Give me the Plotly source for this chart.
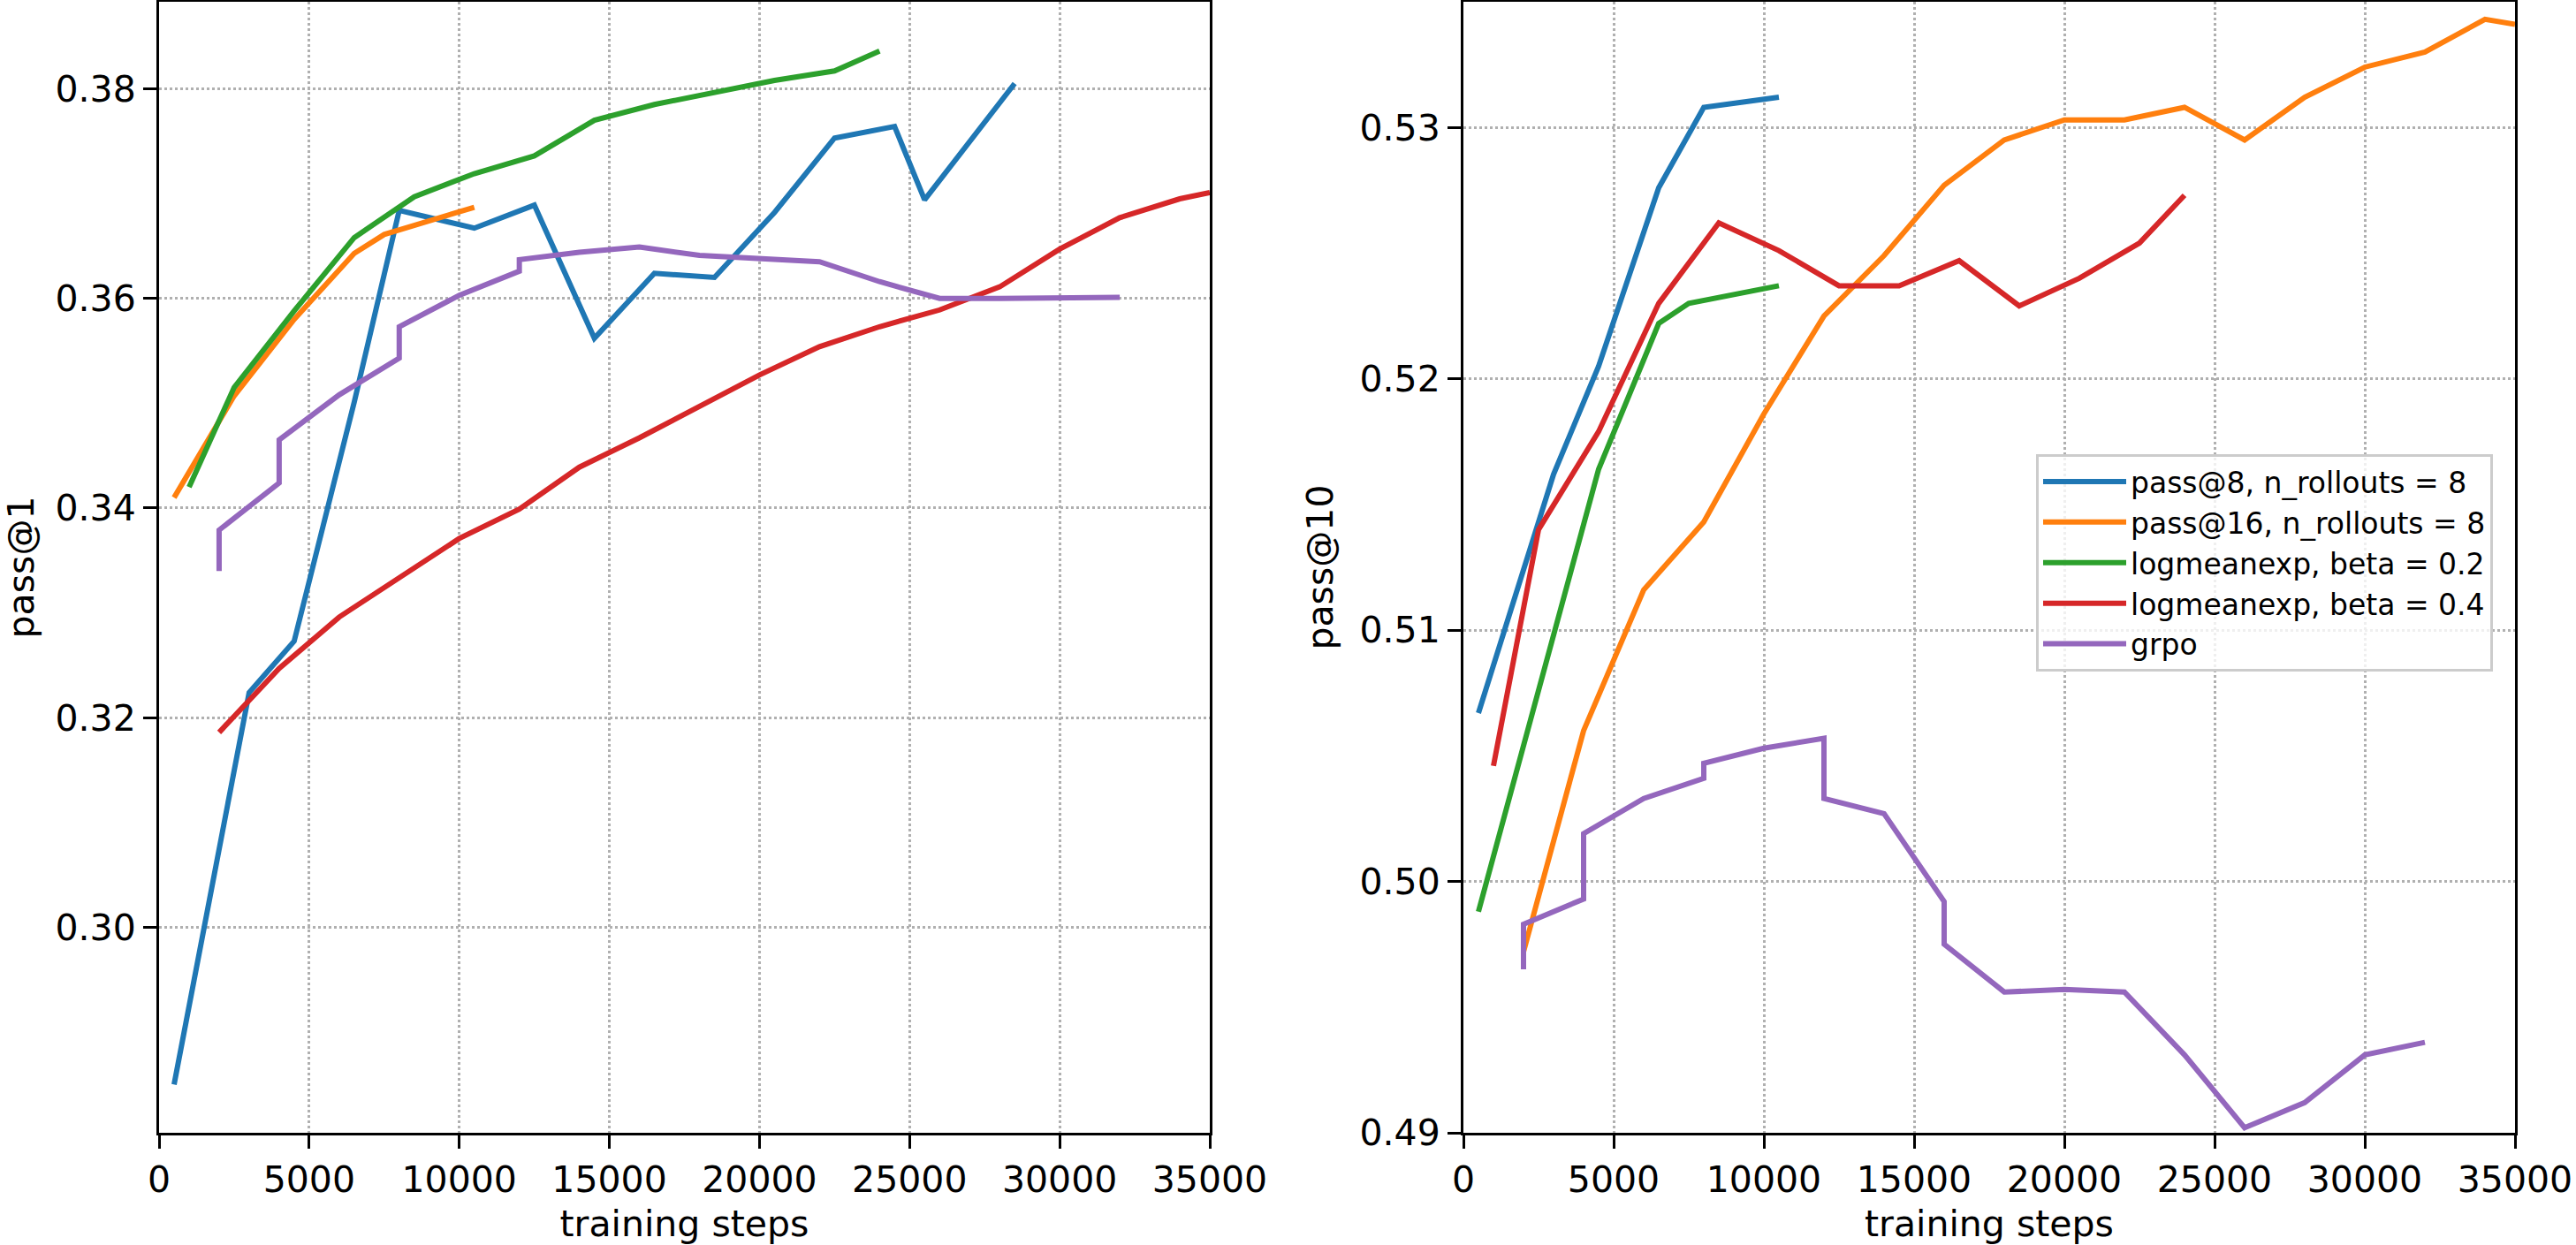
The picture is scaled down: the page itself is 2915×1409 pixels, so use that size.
import plotly.graph_objects as go

# ---------------- data ----------------
names = ["pass@8, n_rollouts = 8", "pass@16, n_rollouts = 8",
         "logmeanexp, beta = 0.2", "logmeanexp, beta = 0.4", "grpo"]
colors = ["#1f77b4", "#ff7f0e", "#2ca02c", "#d62728", "#9467bd"]

# left panel: pass@1
l_pass8_x = [500, 3000, 4500, 6500, 8000, 10500, 12500, 14500, 16500, 18500, 20500, 22500, 24500, 25500, 28500]
l_pass8_y = [0.2850, 0.3224, 0.3273, 0.3501, 0.3684, 0.3667, 0.3689, 0.3562, 0.3624, 0.3620, 0.3682, 0.3753, 0.3764, 0.3694, 0.3805]
l_pass16_x = [500, 2500, 4500, 6500, 7500, 10500]
l_pass16_y = [0.3410, 0.3507, 0.3580, 0.3643, 0.3661, 0.3687]
l_lme02_x = [1000, 2500, 4500, 6500, 8500, 10500, 12500, 14500, 16500, 18500, 20500, 22500, 24000]
l_lme02_y = [0.3420, 0.3515, 0.3588, 0.3658, 0.3697, 0.3719, 0.3736, 0.3770, 0.3785, 0.3796, 0.3808, 0.3817, 0.3836]
l_lme04_x = [2000, 4000, 6000, 8000, 10000, 12000, 14000, 16000, 18000, 20000, 22000, 24000, 26000, 28000, 30000, 32000, 34000, 35000]
l_lme04_y = [0.3186, 0.3247, 0.3296, 0.3334, 0.3371, 0.3399, 0.3439, 0.3467, 0.3497, 0.3527, 0.3554, 0.3573, 0.3589, 0.3611, 0.3647, 0.3677, 0.3695, 0.3701]
l_grpo_x = [2000, 2000, 4000, 4000, 6000, 8000, 8000, 10000, 12000, 12000, 14000, 16000, 18000, 20000, 22000, 24000, 26000, 28000, 30000, 32000]
l_grpo_y = [0.3340, 0.3379, 0.3424, 0.3465, 0.3508, 0.3543, 0.3573, 0.3603, 0.3626, 0.3637, 0.3644, 0.3649, 0.3641, 0.3638, 0.3635, 0.3616, 0.3600, 0.3600, 0.3600, 0.3601]

# right panel: pass@10
r_pass8_x = [500, 3000, 4500, 6500, 8000, 10500]
r_pass8_y = [0.5067, 0.5162, 0.5205, 0.5276, 0.5308, 0.5312]
r_pass16_x = [2000, 4000, 6000, 8000, 10000, 12000, 14000, 16000, 18000, 20000, 22000, 24000, 26000, 28000, 30000, 32000, 34000, 35000]
r_pass16_y = [0.4972, 0.5060, 0.5116, 0.5143, 0.5186, 0.5225, 0.5249, 0.5277, 0.5295, 0.5303, 0.5303, 0.5308, 0.5295, 0.5312, 0.5324, 0.5330, 0.5343, 0.5341]
r_lme02_x = [500, 4500, 6500, 7500, 10500]
r_lme02_y = [0.4988, 0.5164, 0.5222, 0.5230, 0.5237]
r_lme04_x = [1000, 2500, 4500, 6500, 8500, 10500, 12500, 14500, 16500, 18500, 20500, 22500, 24000]
r_lme04_y = [0.5046, 0.5140, 0.5179, 0.5230, 0.5262, 0.5251, 0.5237, 0.5237, 0.5247, 0.5229, 0.5240, 0.5254, 0.5273]
r_grpo_x = [2000, 2000, 4000, 4000, 6000, 8000, 8000, 10000, 12000, 12000, 14000, 16000, 16000, 18000, 20000, 22000, 24000, 26000, 28000, 30000, 32000]
r_grpo_y = [0.4965, 0.4983, 0.4993, 0.5019, 0.5033, 0.5041, 0.5047, 0.5053, 0.5057, 0.5033, 0.5027, 0.4992, 0.4975, 0.4956, 0.4957, 0.4956, 0.4931, 0.4902, 0.4912, 0.4931, 0.4936]

x_ticks = [0, 5000, 10000, 15000, 20000, 25000, 30000, 35000]
left_y_ticks = [0.30, 0.32, 0.34, 0.36, 0.38]
right_y_ticks = [0.49, 0.50, 0.51, 0.52, 0.53]

left_series = [(l_pass8_x, l_pass8_y), (l_pass16_x, l_pass16_y), (l_lme02_x, l_lme02_y),
               (l_lme04_x, l_lme04_y), (l_grpo_x, l_grpo_y)]
right_series = [(r_pass8_x, r_pass8_y), (r_pass16_x, r_pass16_y), (r_lme02_x, r_lme02_y),
                (r_lme04_x, r_lme04_y), (r_grpo_x, r_grpo_y)]

# ---------------- figure ----------------
W, H = 2915, 1409
FONT = "DejaVu Sans"
LW = 6

fig = go.Figure()
for (xs, ys), name, c in zip(left_series, names, colors):
    fig.add_trace(go.Scatter(x=xs, y=ys, mode="lines", name=name, showlegend=False,
                             line=dict(color=c, width=LW), xaxis="x", yaxis="y"))
for (xs, ys), name, c in zip(right_series, names, colors):
    fig.add_trace(go.Scatter(x=xs, y=ys, mode="lines", name=name, showlegend=True,
                             line=dict(color=c, width=LW), xaxis="x2", yaxis="y2"))

ydom = [1 - 1282 / H, 1 - 2 / H]
common_ax = dict(showline=True, linecolor="black", linewidth=3, mirror=True,
                 ticks="outside", ticklen=15, tickwidth=3, tickcolor="black",
                 showgrid=True, gridcolor="#b0b0b0", gridwidth=2.5, griddash="dot",
                 zeroline=False, tickfont=dict(family=FONT, size=41, color="black"),
                 automargin=False)

xa = dict(common_ax, range=[0, 35000], tickvals=x_ticks, ticktext=[str(v) for v in x_ticks],
          title=dict(text="training steps", font=dict(family=FONT, size=41, color="black"), standoff=14))

fig.update_layout(
    width=W, height=H,
    margin=dict(l=0, r=0, t=0, b=0),
    paper_bgcolor="white", plot_bgcolor="white",
    font=dict(family=FONT, color="black"),
    xaxis=dict(xa, domain=[180 / W, 1369 / W], anchor="y"),
    yaxis=dict(common_ax, domain=ydom, anchor="x", range=[0.2804, 0.3883],
               tickvals=left_y_ticks, ticktext=[f"{v:.2f}" for v in left_y_ticks],
               title=dict(text="pass@1", font=dict(family=FONT, size=41, color="black"), standoff=18)),
    xaxis2=dict(xa, domain=[1656 / W, 2846 / W], anchor="y2"),
    yaxis2=dict(common_ax, domain=ydom, anchor="x2", range=[0.49, 0.535],
                tickvals=right_y_ticks, ticktext=[f"{v:.2f}" for v in right_y_ticks],
                title=dict(text="pass@10", font=dict(family=FONT, size=41, color="black"), standoff=18)),
    legend=dict(x=2304 / W, y=1 - 514 / H, xanchor="left", yanchor="top",
                bgcolor="rgba(255,255,255,0.8)", bordercolor="#cccccc", borderwidth=3,
                font=dict(family=FONT, size=33, color="black"), itemwidth=94,
                tracegroupgap=0),
)

fig.write_html("out.html")
